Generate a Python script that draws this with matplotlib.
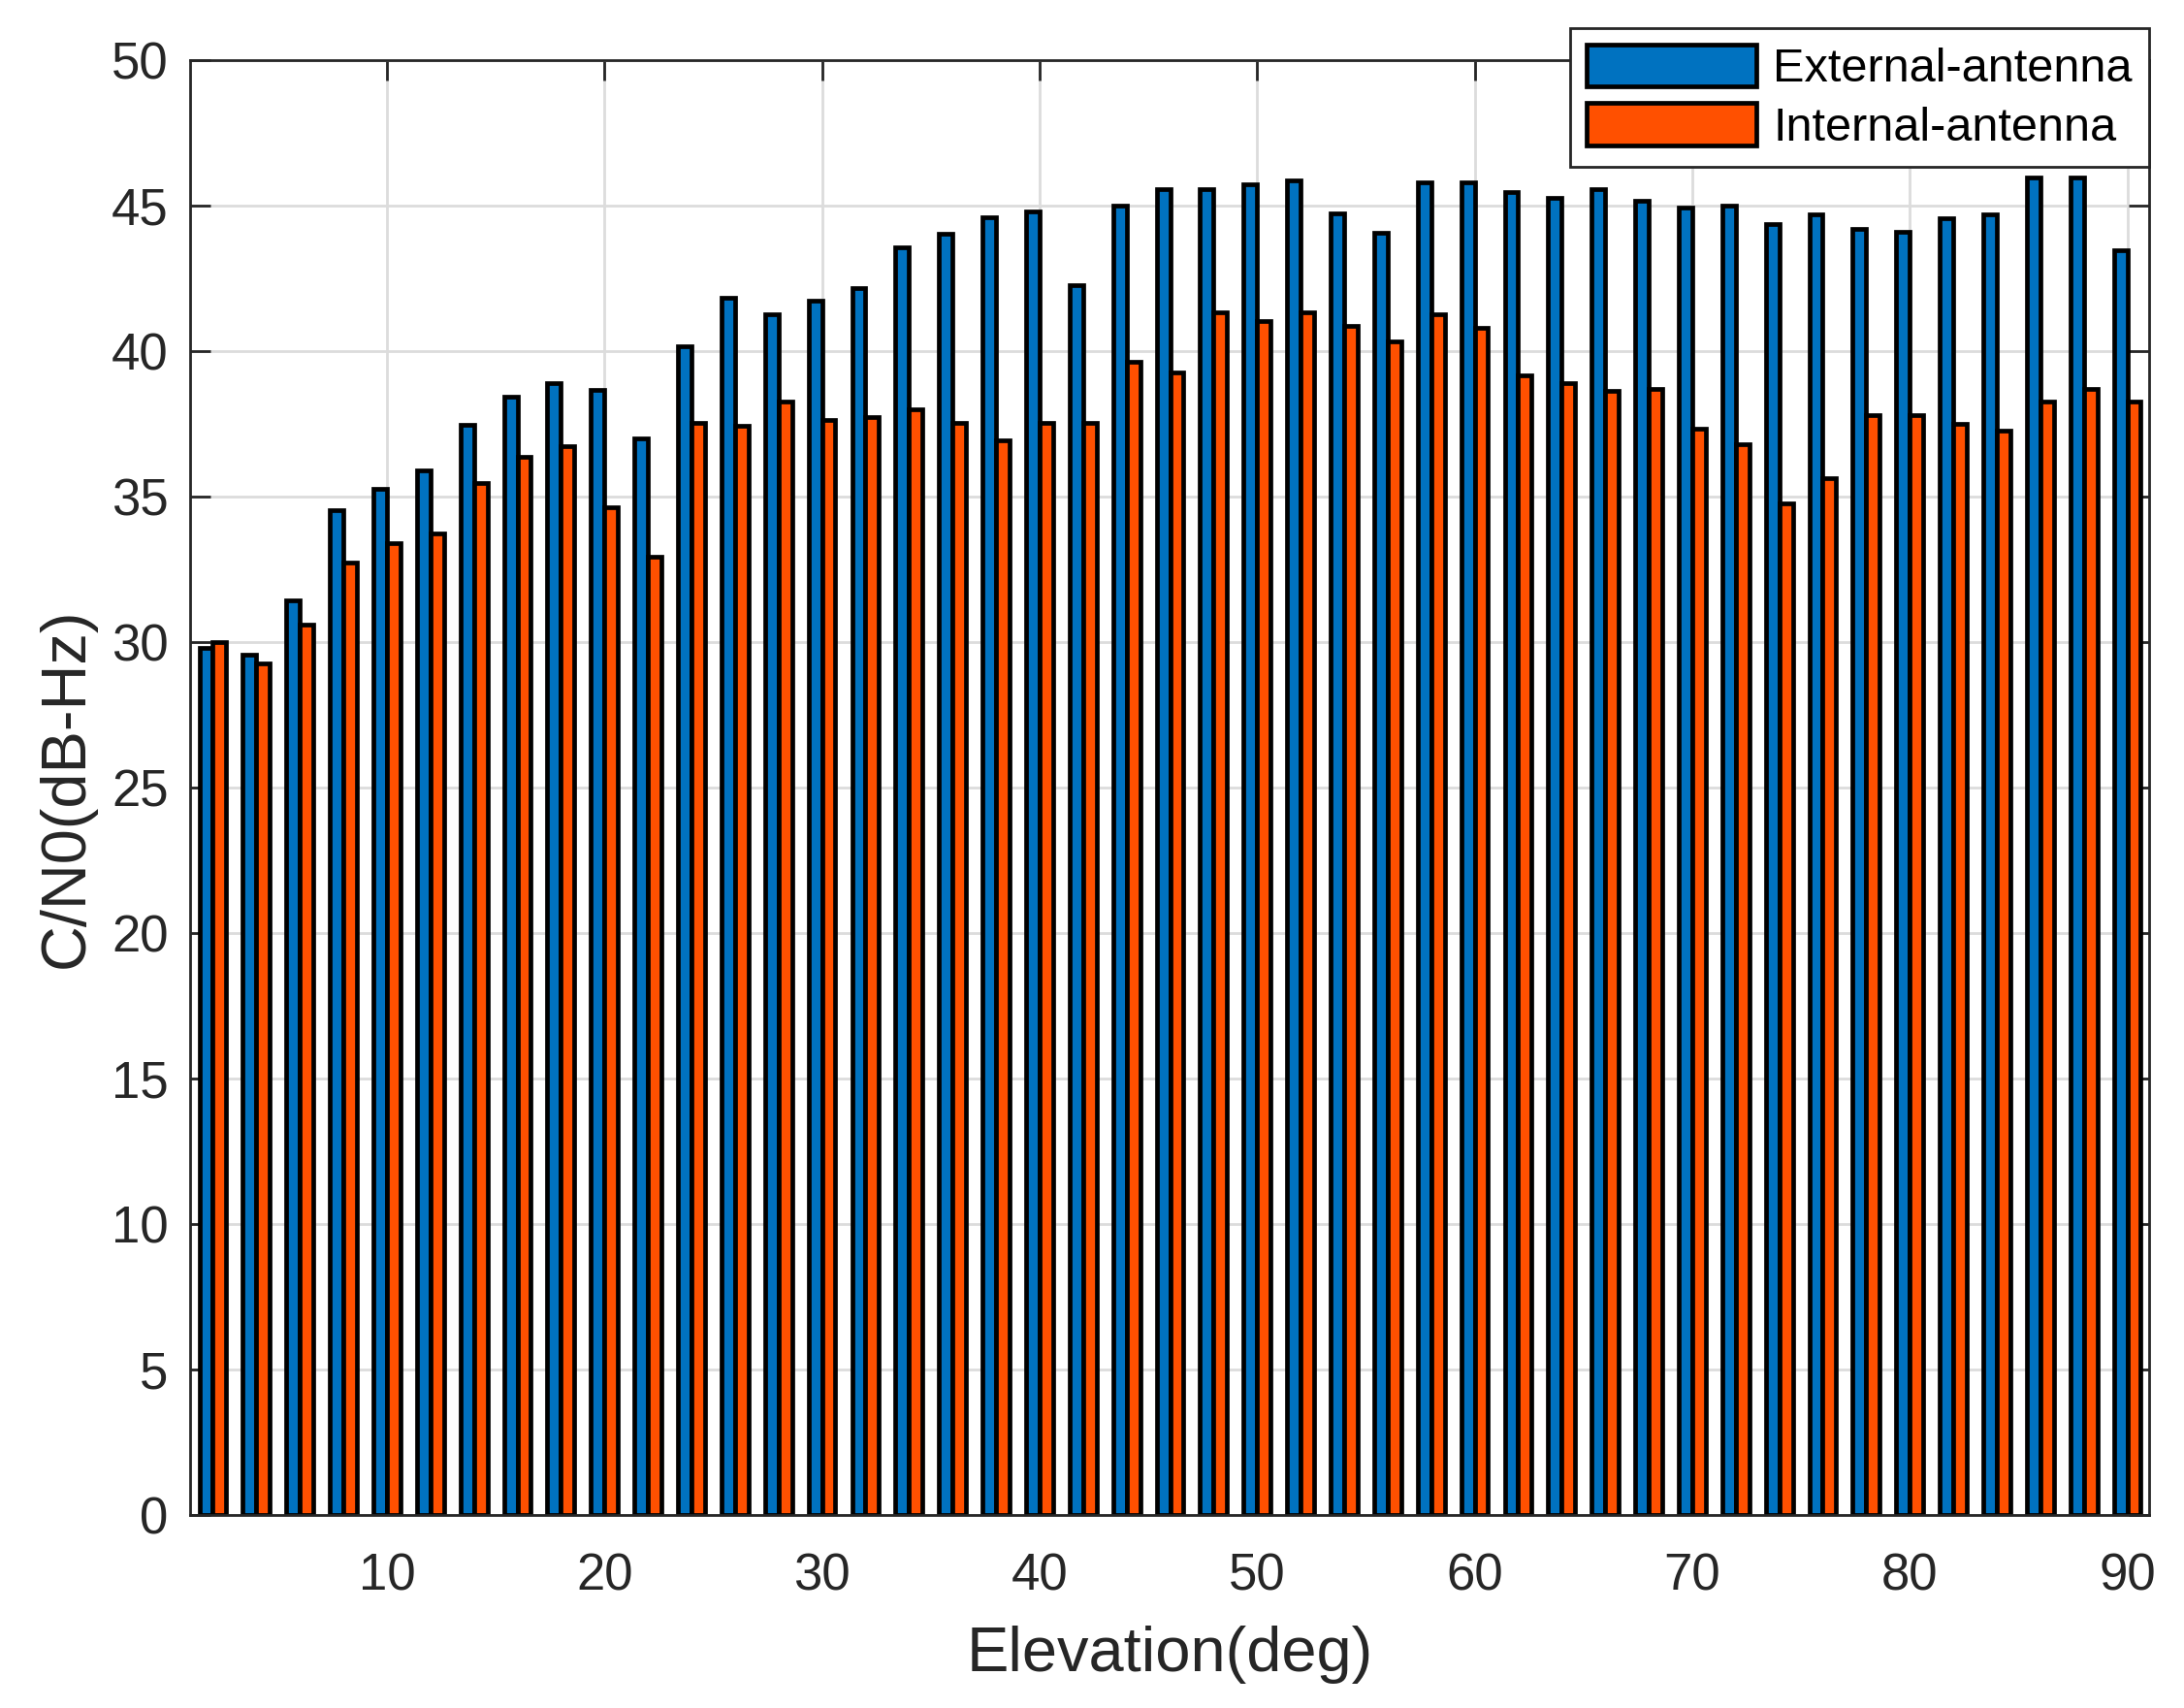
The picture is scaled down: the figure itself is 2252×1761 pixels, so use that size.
import matplotlib.pyplot as plt
import numpy as np

# elevation bins (deg) and mean C/N0 per bin
elevation = np.arange(2, 92, 2)
external = [29.8, 29.55, 31.44, 34.53, 35.25, 35.88, 37.45, 38.42, 38.88, 38.67,
            37.0, 40.17, 41.82, 41.25, 41.72, 42.16, 43.55, 44.03, 44.58, 44.79,
            42.26, 44.99, 45.55, 45.54, 45.72, 45.84, 44.71, 44.07, 45.8, 45.8,
            45.44, 45.26, 45.54, 45.17, 44.92, 44.99, 44.34, 44.7, 44.2, 44.08,
            44.57, 44.7, 45.96, 45.96, 43.45]
internal = [30.0, 29.26, 30.6, 32.72, 33.38, 33.72, 35.45, 36.35, 36.71, 34.62,
            32.91, 37.52, 37.42, 38.26, 37.63, 37.71, 37.99, 37.53, 36.94, 37.53,
            37.53, 39.64, 39.26, 41.32, 41.01, 41.32, 40.86, 40.31, 41.27, 40.78,
            39.17, 38.89, 38.63, 38.7, 37.32, 36.79, 34.75, 35.61, 37.79, 37.79,
            37.5, 37.26, 38.25, 38.68, 38.26]

plt.rcParams['font.family'] = ['Liberation Sans', 'DejaVu Sans']

fig = plt.figure(figsize=(11.26, 8.805), dpi=200)
ax = fig.add_axes([0.087, 0.113, 0.897, 0.852])

w = 0.62
ax.bar(elevation - w / 2, external, width=w, color='#0072C0',
       edgecolor='black', linewidth=1.7, label='External-antenna')
ax.bar(elevation + w / 2, internal, width=w, color='#FF5000',
       edgecolor='black', linewidth=1.7, label='Internal-antenna')

ax.set_xlim(0.95, 91.0)
ax.set_ylim(0, 50)
ax.set_xticks(np.arange(10, 100, 10))
ax.set_yticks(np.arange(0, 55, 5))
ax.grid(True, color='#dcdcdc', linewidth=1.0)
ax.set_axisbelow(True)

ax.tick_params(direction='in', length=7.5, width=1.0, top=True, right=True,
               labelsize=19, colors='#262626')
ax.tick_params(axis='x', pad=14)
ax.tick_params(axis='y', pad=8)
for s in ax.spines.values():
    s.set_color('#262626')
    s.set_linewidth(1.0)

ax.set_xlabel('Elevation(deg)', fontsize=23.4, color='#262626', labelpad=9)
ax.set_ylabel('C/N0(dB-Hz)', fontsize=23.4, color='#262626', labelpad=6)

leg = ax.legend(loc='upper right', bbox_to_anchor=(1.0, 1.022), fontsize=17.5,
                fancybox=False, framealpha=1, edgecolor='#262626',
                handlelength=3.6, handleheight=1.0, handletextpad=0.35,
                labelspacing=0.25, borderpad=0.35, borderaxespad=0)
leg.get_frame().set_linewidth(1.0)

plt.savefig('out.png', dpi=200)
